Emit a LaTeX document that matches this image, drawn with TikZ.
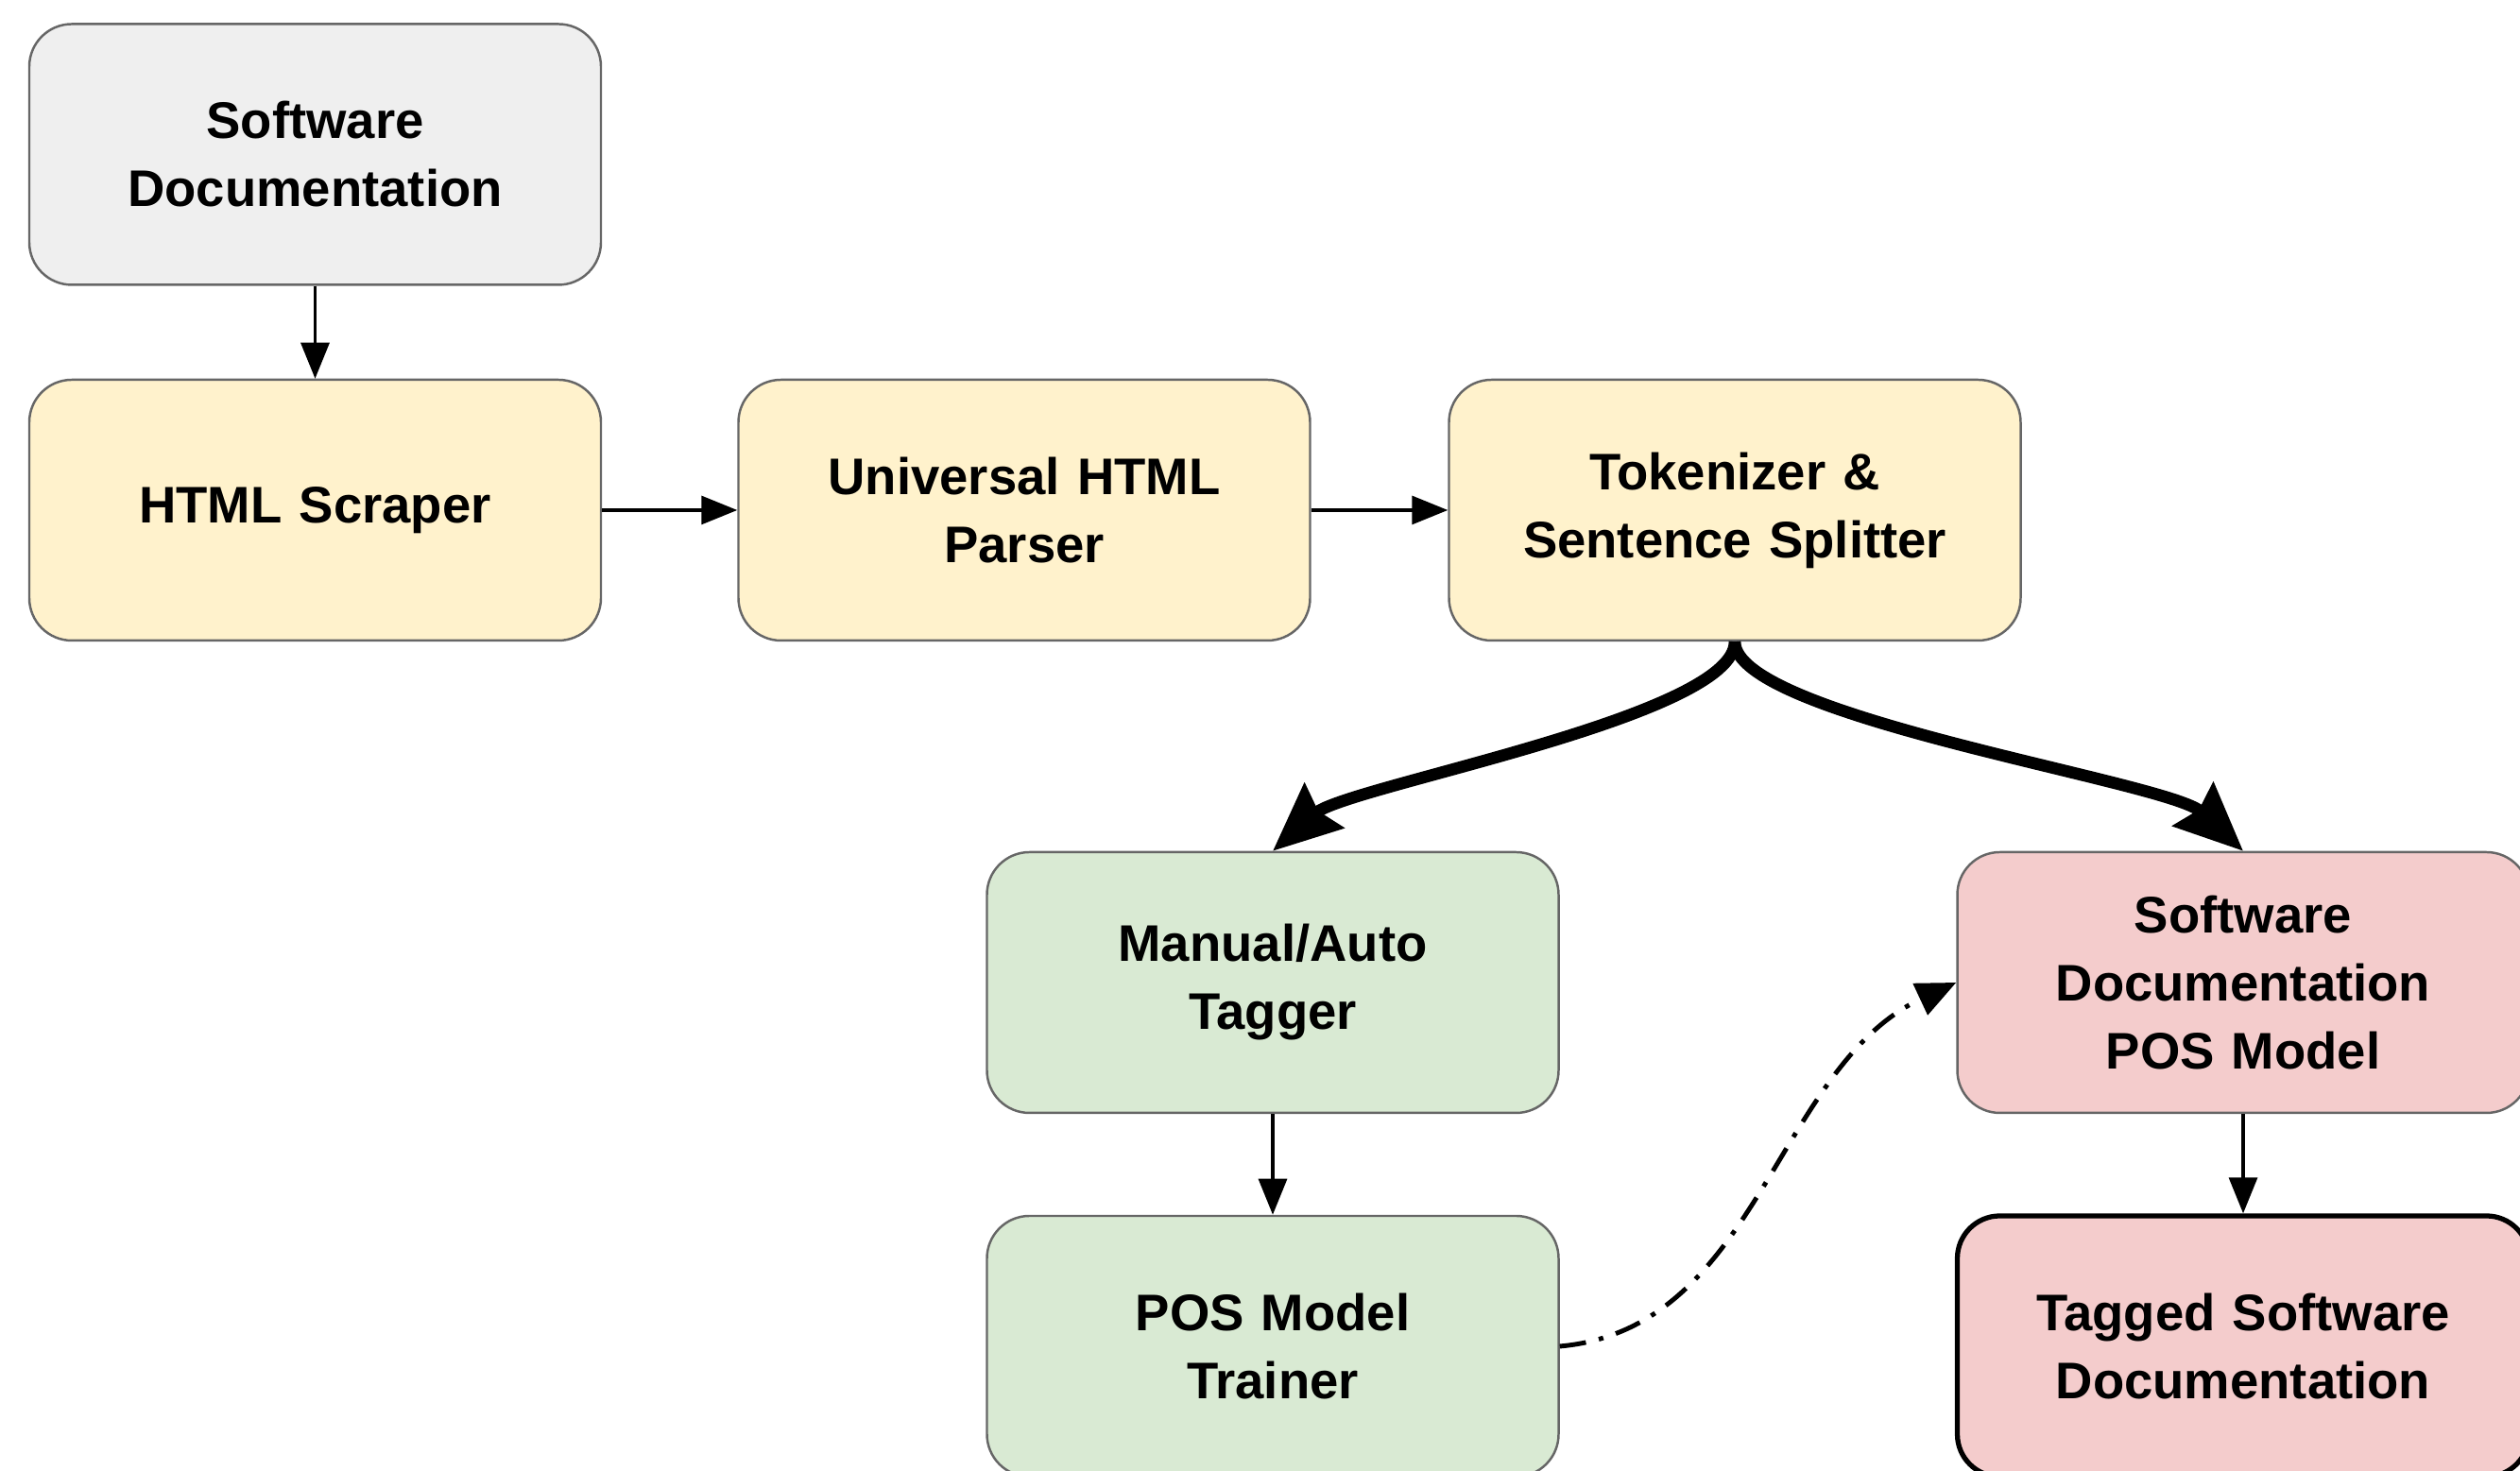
\documentclass[tikz,border=0pt]{standalone}
\usepackage{fontspec}
\setmainfont{Liberation Sans}
\usetikzlibrary{arrows.meta,positioning,calc}

\definecolor{boxgray}{HTML}{EFEFEF}
\definecolor{boxyellow}{HTML}{FFF2CC}
\definecolor{boxgreen}{HTML}{D9EAD3}
\definecolor{boxpink}{HTML}{F4CCCC}

\tikzset{
	stage/.style={draw=black!60, line width=0.7pt, rounded corners=0.45cm,
		minimum width=6.05cm, minimum height=2.76cm, text width=5.6cm, align=center,
		font=\fontsize{15.5}{20.5}\selectfont\bfseries},
	flow/.style={-{Triangle[length=0.38cm,width=0.3cm]}, line width=0.9pt},
	split/.style={-{Stealth[length=0.72cm,width=0.62cm,inset=0.08cm]}, line width=3.6pt},
}

\begin{document}
\begin{tikzpicture}
					\useasboundingbox (0,0) rectangle (26.67,15.57);
					
					\node[stage, fill=boxgray] (docs) at (3.335,13.935) {Software\\Documentation};
					\node[stage, fill=boxyellow] (scraper) at (3.335,10.17) {HTML Scraper};
					\node[stage, fill=boxyellow] (parser) at (10.84,10.17) {Universal HTML\\Parser};
					\node[stage, fill=boxyellow] (tokenizer) at (18.36,10.17) {Tokenizer \&\\Sentence Splitter};
					
					% Training branch
					\node[stage, fill=boxgreen] (tagger) at (13.47,5.17) {Manual/Auto\\Tagger};
					\node[stage, fill=boxgreen] (trainer) at (13.47,1.32) {POS Model\\Trainer};
					
					% Tagging branch
					\node[stage, fill=boxpink] (posmodel) at (23.74,5.17) {Software\\Documentation\\POS Model};
					\node[stage, fill=boxpink, draw=black, line width=1.5pt] (tagged) at (23.74,1.32) {Tagged Software\\Documentation};
					
					\draw[flow] (docs) -- (scraper);
					\draw[flow] (scraper) -- (parser);
					\draw[flow] (parser) -- (tokenizer);
					\draw[flow] (tagger) -- (trainer);
					\draw[flow] (posmodel) -- (tagged);
					
					\draw[split] (tokenizer.south) .. controls +(0,-0.8) and (14.25,7.25) .. (tagger.north);
					\draw[split] (tokenizer.south) .. controls +(0,-0.8) and (22.95,7.3) .. (posmodel.north);
					
					\draw[-{Triangle[length=0.42cm,width=0.36cm]}, line width=1.4pt,
						dash pattern=on 0.28cm off 0.14cm on 0.05cm off 0.14cm]
						(trainer.east) to[out=5, in=205, looseness=0.95] (posmodel.west);
				\end{tikzpicture}
\end{document}
